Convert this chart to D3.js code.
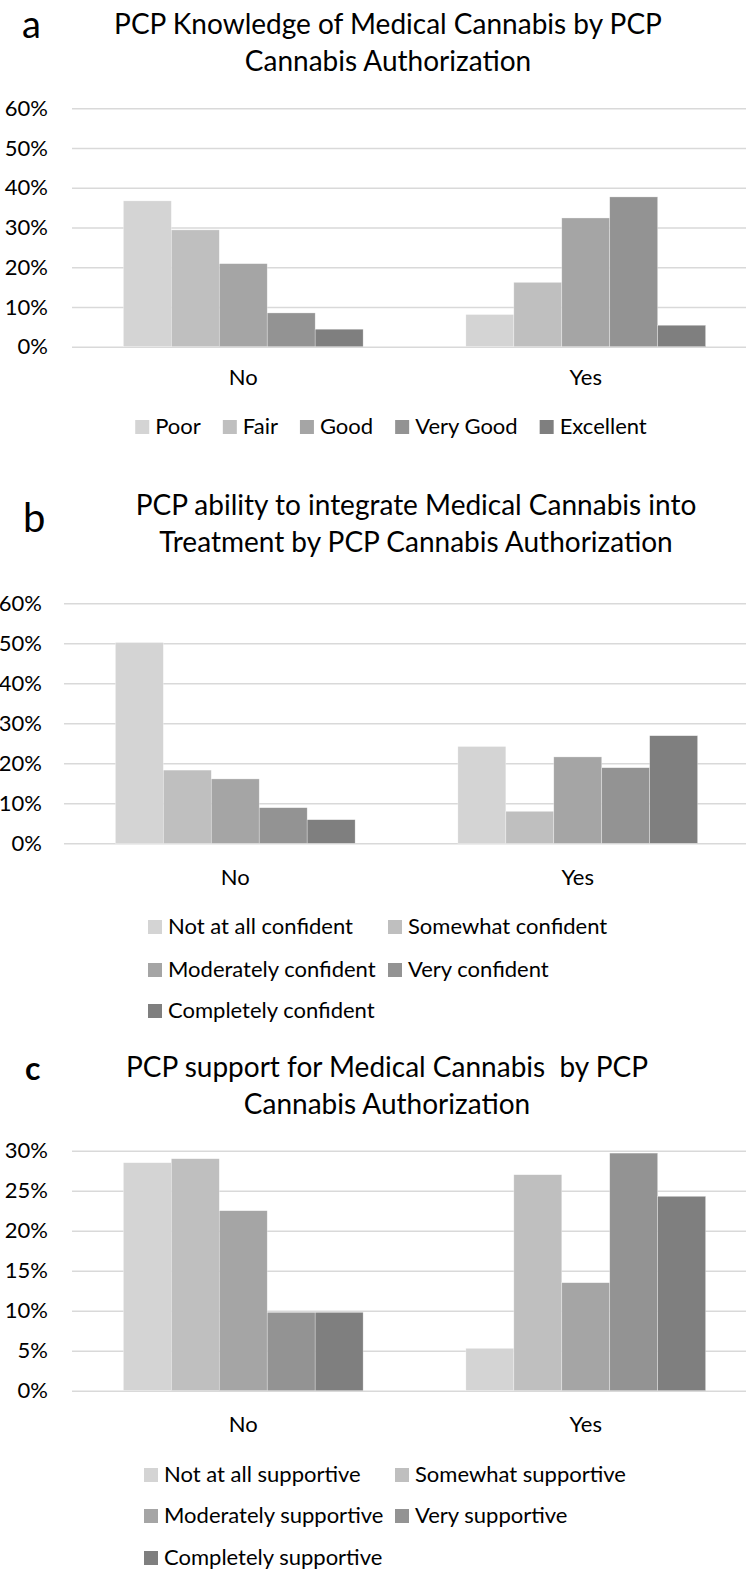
<!DOCTYPE html>
<html>
<head>
<meta charset="utf-8">
<script src="https://cdn.jsdelivr.net/npm/d3@7"></script>
<style>
  html, body { margin: 0; padding: 0; background: #fff; }
  svg { display: block; }
  text { font-family: "Lato", "Open Sans", sans-serif; fill: #000; }
  .title { white-space: pre; }
</style>
</head>
<body>
<div id="chart"></div>
<script>
// categories shared by the three panels
const groups = ["No", "Yes"];
const barColors = ["#d4d4d4", "#bfbfbf", "#a5a5a5", "#939393", "#7f7f7f"];

// a - knowledge
const knowledgeLevels = ["Poor", "Fair", "Good", "Very Good", "Excellent"];
const knowledgeNo = [36.7, 29.4, 20.9, 8.5, 4.4];
const knowledgeYes = [8.1, 16.2, 32.4, 37.7, 5.4];
const knowledgeTicks = [0, 10, 20, 30, 40, 50, 60];

// b - integrate into treatment
const integrateLevels = ["Not at all confident", "Somewhat confident", "Moderately confident", "Very confident", "Completely confident"];
const integrateNo = [50.2, 18.3, 16.1, 8.9, 5.9];
const integrateYes = [24.2, 8.0, 21.6, 18.9, 26.9];
const integrateTicks = [0, 10, 20, 30, 40, 50, 60];

// c - support
const supportLevels = ["Not at all supportive", "Somewhat supportive", "Moderately supportive", "Very supportive", "Completely supportive"];
const supportNo = [28.5, 29.0, 22.5, 9.8, 9.8];
const supportYes = [5.3, 27.0, 13.5, 29.7, 24.3];
const supportTicks = [0, 5, 10, 15, 20, 25, 30];

const width = 746;
const height = 1569;

const svg = d3.select("#chart").append("svg")
    .attr("width", width)
    .attr("height", height)
    .attr("viewBox", [0, 0, width, height]);

function drawPanel(p) {
    const g = svg.append("g");

    // panel letter
    g.append("text")
        .attr("x", p.letterX)
        .attr("y", p.letterY)
        .attr("font-size", p.letterSize)
        .attr("font-weight", p.letterWeight || "normal")
        .text(p.letter);

    // two line title, centered
    g.selectAll(".title")
        .data(p.title)
        .join("text")
            .attr("class", "title")
            .attr("x", p.titleX)
            .attr("y", (d, i) => p.titleY + i * 36.5)
            .attr("text-anchor", "middle")
            .attr("font-size", 28)
            .text(d => d);

    const y = d3.scaleLinear()
        .domain([0, d3.max(p.ticks)])
        .range([p.y0, p.yTop]);

    const x0 = d3.scaleBand()
        .domain(groups)
        .range([p.left, p.left + 685])
        .paddingInner(0.3)
        .paddingOuter(0.15);

    const x1 = d3.scaleBand()
        .domain(p.levels)
        .range([0, x0.bandwidth()]);

    // gridlines + tick labels
    const yAxis = d3.axisLeft(y)
        .tickValues(p.ticks)
        .tickSize(-(width - p.left + 20))
        .tickPadding(p.left - p.tickRight)
        .tickFormat(d => d + "%");

    const ax = g.append("g")
        .attr("transform", `translate(${p.left},0)`)
        .call(yAxis);
    ax.select(".domain").remove();
    ax.selectAll(".tick line")
        .attr("stroke", "#d9d9d9")
        .attr("stroke-width", 1.5);
    ax.selectAll(".tick text")
        .attr("font-size", 22)
        .attr("fill", "#000")
        .attr("font-family", "Lato, 'Open Sans', sans-serif");

    // bars
    const rows = groups.map((grp, gi) => ({
        group: grp,
        values: p.levels.map((lv, li) => ({level: lv, value: p.series[gi][li], idx: li}))
    }));

    g.append("g")
        .selectAll("g")
        .data(rows)
        .join("g")
            .attr("transform", d => `translate(${x0(d.group)},0)`)
        .selectAll("rect")
        .data(d => d.values)
        .join("rect")
            .attr("x", d => x1(d.level))
            .attr("y", d => y(d.value))
            .attr("width", x1.bandwidth())
            .attr("height", d => y(0) - y(d.value))
            .attr("fill", d => barColors[d.idx])
            .attr("stroke", "#ffffff")
            .attr("stroke-opacity", 0.5)
            .attr("stroke-width", 0.6);

    // category labels
    g.selectAll(".cat")
        .data(groups)
        .join("text")
            .attr("class", "cat")
            .attr("x", d => x0(d) + x0.bandwidth() / 2)
            .attr("y", p.catY)
            .attr("text-anchor", "middle")
            .attr("font-size", 22)
            .text(d => d);

    // legend
    const leg = g.append("g");
    const items = leg.selectAll("g")
        .data(p.levels)
        .join("g");
    items.append("rect")
        .attr("width", 14)
        .attr("height", 14)
        .attr("y", -14)
        .attr("fill", (d, i) => barColors[i]);
    items.append("text")
        .attr("x", 20)
        .attr("font-size", 22)
        .text(d => d);

    if (p.legendCols) {
        // grid layout, 2 columns
        items.attr("transform", (d, i) =>
            `translate(${p.legendCols[i % 2]},${p.legendRows[Math.floor(i / 2)]})`);
    } else {
        // one row, centered
        let pos = 0;
        const offs = [];
        items.each(function() {
            offs.push(pos);
            pos += 20 + d3.select(this).select("text").node().getComputedTextLength() + 22;
        });
        const total = pos - 22;
        const start = p.legendCenter - total / 2;
        items.attr("transform", (d, i) => `translate(${start + offs[i]},${p.legendY})`);
    }
}

drawPanel({
    letter: "a", letterX: 22, letterY: 38, letterSize: 38,
    title: ["PCP Knowledge of Medical Cannabis by PCP", "Cannabis Authorization"],
    titleX: 388, titleY: 34,
    levels: knowledgeLevels, series: [knowledgeNo, knowledgeYes], ticks: knowledgeTicks,
    left: 72, tickRight: 48, y0: 346.7, yTop: 108.3,
    catY: 385,
    legendCenter: 391, legendY: 434
});

drawPanel({
    letter: "b", letterX: 23, letterY: 532, letterSize: 40,
    title: ["PCP ability to integrate Medical Cannabis into", "Treatment by PCP Cannabis Authorization"],
    titleX: 416, titleY: 515,
    levels: integrateLevels, series: [integrateNo, integrateYes], ticks: integrateTicks,
    left: 64, tickRight: 42, y0: 843.3, yTop: 603.3,
    catY: 885,
    legendCols: [148, 388], legendRows: [934, 977, 1018]
});

drawPanel({
    letter: "c", letterX: 25, letterY: 1080, letterSize: 32, letterWeight: "bold",
    title: ["PCP support for Medical Cannabis  by PCP", "Cannabis Authorization"],
    titleX: 387, titleY: 1077,
    levels: supportLevels, series: [supportNo, supportYes], ticks: supportTicks,
    left: 72, tickRight: 48, y0: 1390.7, yTop: 1150.7,
    catY: 1432,
    legendCols: [144, 395], legendRows: [1482, 1523, 1565]
});
</script>
</body>
</html>
